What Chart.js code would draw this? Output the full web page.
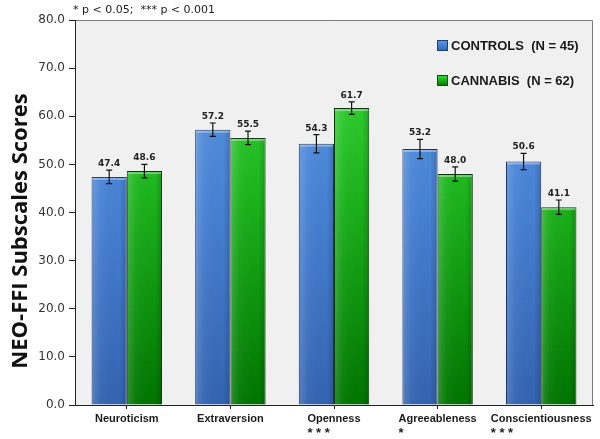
<!DOCTYPE html>
<html>
<head>
<meta charset="utf-8">
<script src="https://cdn.jsdelivr.net/npm/chart.js@4.4.1/dist/chart.umd.min.js"></script>
<style>
  html, body { margin: 0; padding: 0; background: #fff; }
  #wrap { width: 600px; height: 439px; }
</style>
</head>
<body>
<div id="wrap"><canvas id="chart" width="600" height="439"></canvas></div>
<script>
// ---- data ----
const categories = ["Neuroticism", "Extraversion", "Openness", "Agreeableness", "Conscientiousness"];
const significance = ["", "", "* * *", "*", "* * *"];
const controls = [47.4, 57.2, 54.3, 53.2, 50.6];
const controlsErr = [1.4, 1.4, 1.9, 2.0, 1.7];
const cannabis = [48.6, 55.5, 61.7, 48.0, 41.1];
const cannabisErr = [1.4, 1.4, 1.3, 1.5, 1.5];
const seriesNames = ["CONTROLS  (N = 45)", "CANNABIS  (N = 62)"];
const yTitle = "NEO-FFI Subscales Scores";
const note = "* p < 0.05;  *** p < 0.001";

const errors = [controlsErr, cannabisErr];

function blueGrad(ctx, top, bottom) {
    const g = ctx.createLinearGradient(0, top, 0, bottom);
    g.addColorStop(0, "#5c9be6");
    g.addColorStop(0.5, "#4680d2");
    g.addColorStop(1, "#3363b0");
    return g;
}
function greenGrad(ctx, top, bottom) {
    const g = ctx.createLinearGradient(0, top, 0, bottom);
    g.addColorStop(0, "#3ee03e");
    g.addColorStop(0.45, "#1cb41c");
    g.addColorStop(1, "#007400");
    return g;
}

function fillFor(which) {
    return function(context) {
        const chart = context.chart;
        const area = chart.chartArea;
        if (!area) return which === 0 ? "#4680d2" : "#1cb41c";
        return which === 0 ? blueGrad(chart.ctx, area.top, area.bottom) : greenGrad(chart.ctx, area.top, area.bottom);
    };
}

/* plot background + frame */
const backgroundPlugin = {
    id: "plotBackground",
    beforeDraw(chart) {
        const { ctx, chartArea: a } = chart;
        ctx.save();
        ctx.fillStyle = "#f0f0f0";
        ctx.fillRect(a.left, a.top, a.right - a.left, a.bottom - a.top);
        ctx.strokeStyle = "#7a7a7a";
        ctx.lineWidth = 1;
        ctx.beginPath();
        ctx.moveTo(a.left, a.top + 0.5);
        ctx.lineTo(a.right - 0.5, a.top + 0.5);
        ctx.lineTo(a.right - 0.5, a.bottom);
        ctx.stroke();
        ctx.restore();
    }
};

/* bar shading, error bars, value labels */
const errorPlugin = {
    id: "errorBars",
    afterDatasetsDraw(chart) {
        const ctx = chart.ctx;
        const y = chart.scales.y;
        chart.data.datasets.forEach((ds, di) => {
            const meta = chart.getDatasetMeta(di);
            meta.data.forEach((bar, i) => {
                const w = bar.width;
                const left = bar.x - w / 2;
                // side shading for a rounded look
                ctx.save();
                const sg = ctx.createLinearGradient(left, 0, left + w, 0);
                sg.addColorStop(0, "rgba(255,255,255,0.18)");
                sg.addColorStop(0.25, "rgba(255,255,255,0.04)");
                sg.addColorStop(0.8, "rgba(0,0,0,0.0)");
                sg.addColorStop(1, "rgba(0,0,0,0.18)");
                ctx.fillStyle = sg;
                ctx.fillRect(left + 1, bar.y + 1, w - 2, bar.base - bar.y - 1);
                ctx.fillStyle = "rgba(255,255,255,0.35)";
                ctx.fillRect(left + 1, bar.y + 1, w - 2, 2);
                ctx.restore();

                const v = ds.data[i];
                const e = errors[di][i];
                const yTop = y.getPixelForValue(v + e);
                const yBot = y.getPixelForValue(v - e);
                ctx.save();
                ctx.strokeStyle = "#111";
                ctx.lineWidth = 1.2;
                ctx.beginPath();
                ctx.moveTo(bar.x, yTop);
                ctx.lineTo(bar.x, yBot);
                ctx.moveTo(bar.x - 3, yTop);
                ctx.lineTo(bar.x + 3, yTop);
                ctx.moveTo(bar.x - 3, yBot);
                ctx.lineTo(bar.x + 3, yBot);
                ctx.stroke();
                ctx.fillStyle = "#222";
                ctx.font = "bold 9px 'DejaVu Sans'";
                ctx.textAlign = "center";
                ctx.textBaseline = "alphabetic";
                ctx.fillText(v.toFixed(1), bar.x, yTop - 4);
                ctx.restore();
            });
        });
    }
};

/* legend, note, y title, significance marks */
const textPlugin = {
    id: "extraText",
    afterDraw(chart) {
        const { ctx, chartArea: a } = chart;
        ctx.save();

        // note above plot
        ctx.fillStyle = "#222";
        ctx.font = "11px 'DejaVu Sans'";
        ctx.textAlign = "left";
        ctx.textBaseline = "middle";
        ctx.fillText(note, a.left - 2, 10);

        // legend
        const rows = [45, 80];
        const grads = [blueGrad(ctx, rows[0] - 5, rows[0] + 6), greenGrad(ctx, rows[1] - 5, rows[1] + 6)];
        seriesNames.forEach((name, i) => {
            ctx.fillStyle = grads[i];
            ctx.fillRect(437, rows[i] - 5, 11, 11);
            ctx.strokeStyle = i === 0 ? "#1d3f7a" : "#0b4d0b";
            ctx.lineWidth = 1;
            ctx.strokeRect(437.5, rows[i] - 4.5, 10, 10);
            ctx.fillStyle = "#1a1a1a";
            ctx.font = "bold 13px 'Liberation Sans'";
            ctx.textAlign = "left";
            ctx.textBaseline = "middle";
            ctx.fillText(name, 451, rows[i] + 1);
        });

        // y axis title
        ctx.translate(21, 231);
        ctx.rotate(-Math.PI / 2);
        ctx.fillStyle = "#111";
        ctx.font = "bold 22px 'Open Sans'";
        ctx.textAlign = "center";
        ctx.textBaseline = "middle";
        ctx.fillText(yTitle, 0, 0);
        ctx.setTransform(1, 0, 0, 1, 0, 0);

        // significance stars, left aligned with category label
        const x = chart.scales.x;
        ctx.font = "bold 11px 'Liberation Sans'";
        const labelW = categories.map(c => ctx.measureText(c).width);
        ctx.fillStyle = "#222";
        ctx.font = "bold 13px 'Liberation Sans'";
        ctx.textAlign = "left";
        ctx.textBaseline = "middle";
        significance.forEach((s, i) => {
            if (!s) return;
            const cx = x.getPixelForValue(i);
            ctx.fillText(s, cx - labelW[i] / 2, 433);
        });
        ctx.restore();
    }
};

new Chart(document.getElementById("chart"), {
    type: "bar",
    data: {
        labels: categories,
        datasets: [
            {
                label: seriesNames[0],
                data: controls,
                backgroundColor: fillFor(0),
                borderColor: "#1d3564",
                borderWidth: 1
            },
            {
                label: seriesNames[1],
                data: cannabis,
                backgroundColor: fillFor(1),
                borderColor: "#0d3a0d",
                borderWidth: 1
            }
        ]
    },
    options: {
        responsive: false,
        animation: false,
        layout: { padding: { top: 20, right: 7, left: 0, bottom: 0 } },
        categoryPercentage: 0.68,
        barPercentage: 1.0,
        plugins: {
            legend: { display: false },
            tooltip: { enabled: false },
            title: { display: false }
        },
        scales: {
            x: {
                grid: { display: true, drawOnChartArea: false, offset: false, color: "#222", tickLength: 4 },
                border: { color: "#222", width: 1 },
                ticks: {
                    color: "#1a1a1a",
                    font: { family: "'Liberation Sans'", size: 11, weight: "bold" },
                    padding: 3,
                    maxRotation: 0,
                    autoSkip: false
                },
                afterFit(scale) { scale.height = 34; }
            },
            y: {
                min: 0,
                max: 80,
                grid: { display: true, drawOnChartArea: false, color: "#222", tickLength: 6 },
                border: { color: "#222", width: 1 },
                ticks: {
                    stepSize: 10,
                    color: "#333",
                    font: { family: "'DejaVu Sans'", size: 12 },
                    padding: 4,
                    callback: v => v.toFixed(1)
                },
                afterFit(scale) { scale.width = 75; }
            }
        }
    },
    plugins: [backgroundPlugin, errorPlugin, textPlugin]
});
</script>
</body>
</html>
